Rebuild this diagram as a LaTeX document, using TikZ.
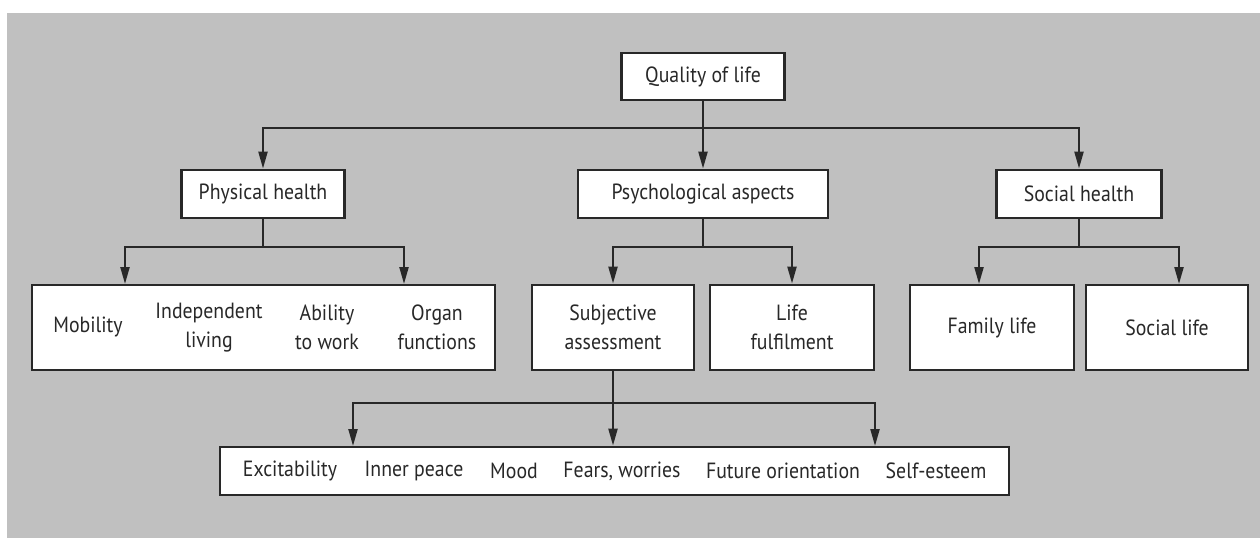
\documentclass[tikz,border=0pt]{standalone}
\usepackage{fontspec}
\setmainfont{PT Sans}[FakeStretch=0.9]
\usetikzlibrary{arrows.meta}
\definecolor{bg}{RGB}{192,192,192}
\definecolor{ink}{RGB}{40,40,40}
\begin{document}
\begin{tikzpicture}[x=1pt,y=-1pt,
  box/.style={draw=ink,line width=2.8pt,fill=white,inner sep=0pt,
    font=\fontsize{22}{29}\selectfont,text=ink,align=center},
  lbl/.style={font=\fontsize{22}{29}\selectfont,text=ink,align=center,inner sep=0pt},
  conn/.style={draw=ink,line width=2.2pt},
  arr/.style={conn,-{Triangle[length=17pt,width=9pt]}}]
\useasboundingbox (0,0) rectangle (1260,538);
\fill[bg] (7,13) rectangle (1260,538);

% level 0
\node[box,minimum width=163pt,minimum height=47pt] (qol) at (703,76.5) {Quality of life};
% level 1
\node[box,minimum width=163pt,minimum height=48pt] (phys) at (263,194) {Physical health};
\node[box,minimum width=250pt,minimum height=48pt] (psy) at (703,194) {Psychological aspects};
\node[box,minimum width=165pt,minimum height=48pt] (soc) at (1079,194) {Social health};
% level 2
\node[box,minimum width=463pt,minimum height=85pt] (physc) at (263.5,327.5) {};
\node[lbl] (mob) at (88,327) {Mobility};
\node[lbl] (ind) at (209,327.5) {Independent\\living};
\node[lbl] (abl) at (327,327.5) {Ability\\to work};
\node[lbl] (org) at (437,327.5) {Organ\\functions};
\node[box,minimum width=162pt,minimum height=85pt] (subj) at (613,327.5) {Subjective\\assessment};
\node[box,minimum width=164pt,minimum height=85pt] (life) at (792,327.5) {Life\\fulfilment};
\node[box,minimum width=164pt,minimum height=85pt] (fam) at (992,327.5) {Family life};
\node[box,minimum width=162pt,minimum height=85pt] (socl) at (1167,327.5) {Social life};
% level 3
\node[box,minimum width=789pt,minimum height=48pt] (bot) at (614.5,471) {};
\node[lbl] (exc) at (290,471) {Excitability};
\node[lbl] (inn) at (414,471) {Inner peace};
\node[lbl] (moo) at (514,471) {Mood};
\node[lbl] (fea) at (622,471) {Fears, worries};
\node[lbl] (fut) at (783,471) {Future orientation};
\node[lbl] (sel) at (936,471) {Self-esteem};

% junctions and arrow targets
\coordinate (j1) at (703,128);
\coordinate (j2) at (263,247);
\coordinate (j3) at (703,247);
\coordinate (j4) at (1079,247);
\coordinate (j5) at (613,403);
\coordinate (pa1) at (125,284);
\coordinate (pa2) at (404,284);
\coordinate (fa) at (979,284);
\coordinate (sa) at (1179,284);
\coordinate (ba1) at (353,446);
\coordinate (ba3) at (875,446);

% connectors
\draw[arr] (qol.south) -- (psy.north);
\draw[arr] (j1) -| (phys.north);
\draw[arr] (j1) -| (soc.north);

\draw[conn] (phys.south) -- (j2);
\draw[arr] (j2) -| (pa1);
\draw[arr] (j2) -| (pa2);

\draw[conn] (psy.south) -- (j3);
\draw[arr] (j3) -| (subj.north);
\draw[arr] (j3) -| (life.north);

\draw[conn] (soc.south) -- (j4);
\draw[arr] (j4) -| (fa);
\draw[arr] (j4) -| (sa);

\draw[arr] (subj.south) -- (subj.south |- bot.north);
\draw[arr] (j5) -| (ba1);
\draw[arr] (j5) -| (ba3);
\end{tikzpicture}
\end{document}
